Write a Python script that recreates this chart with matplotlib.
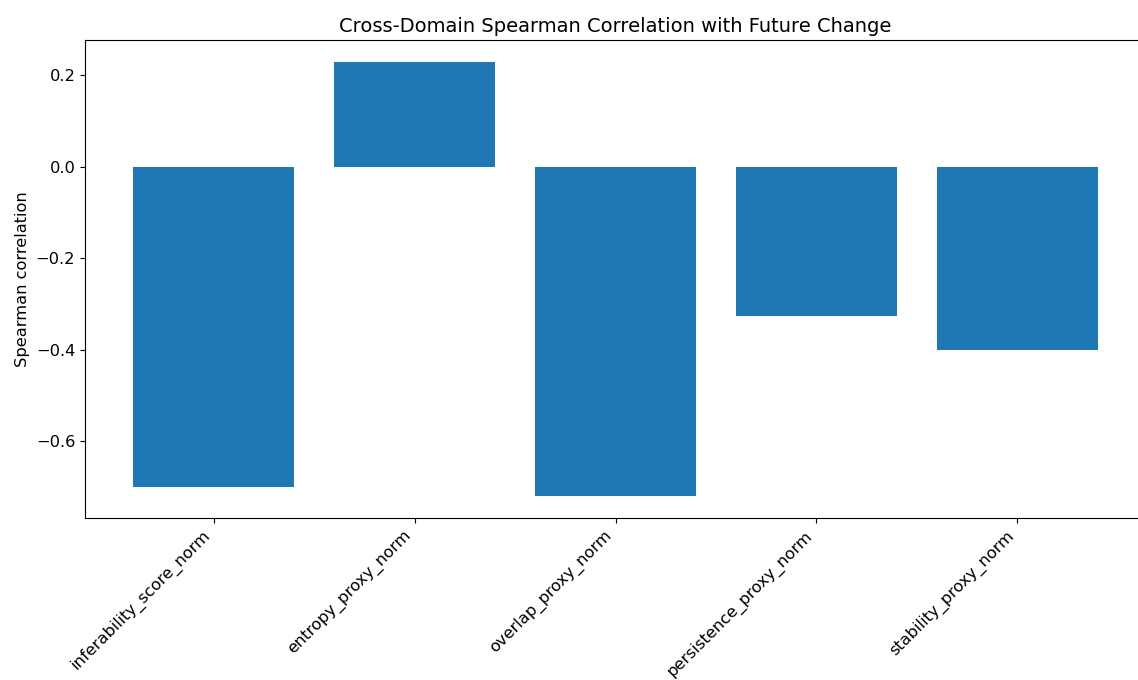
import matplotlib
matplotlib.use("Agg")
import matplotlib.pyplot as plt

features = [
    "inferability_score_norm",
    "entropy_proxy_norm",
    "overlap_proxy_norm",
    "persistence_proxy_norm",
    "stability_proxy_norm",
]
spearman = [-0.70, 0.23, -0.72, -0.326, -0.40]

fig = plt.figure(figsize=(11.38, 6.8), dpi=100)
ax = fig.add_axes([85 / 1138, 1 - 518 / 680, (1146 - 85) / 1138, (518 - 40) / 680])

ax.bar(features, spearman, color="#1f77b4", width=0.8)
ax.set_title("Cross-Domain Spearman Correlation with Future Change", fontsize=14)
ax.set_ylabel("Spearman correlation", fontsize=11.7)
ax.tick_params(axis="both", labelsize=11.7)
plt.setp(ax.get_xticklabels(), rotation=45, ha="right")

fig.savefig("out.png", dpi=100)
